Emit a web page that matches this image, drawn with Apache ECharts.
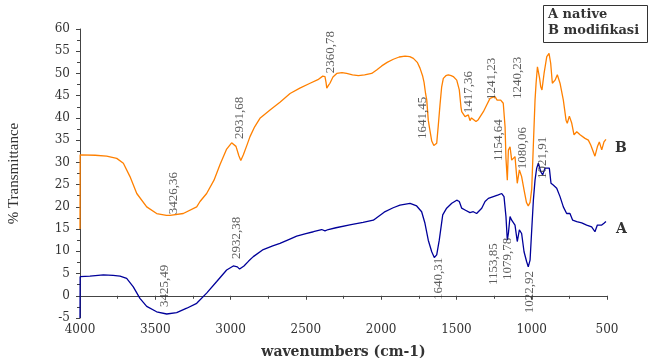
<!DOCTYPE html>
<html>
<head>
<meta charset="utf-8">
<script src="https://cdn.jsdelivr.net/npm/echarts@6/dist/echarts.min.js"></script>
<style>html,body{margin:0;padding:0;background:#fff}#c{width:650px;height:358px}</style>
</head>
<body>
<div id="c"></div>
<script>
// Series B (modifikasi) - wavenumber / %T
var wnB = [4000,3999,3900,3823,3756,3712,3668,3623,3557,3491,3426,3402,3314,3225,3203,3159,3110,3070,3026,2993,2964,2945,2932,2915,2890,2871,2840,2805,2738,2670,2605,2540,2472,2420,2388,2373,2366,2361,2350,2340,2320,2295,2260,2229,2190,2151,2110,2063,2030,1996,1960,1919,1880,1841,1810,1786,1760,1742,1725,1715,1705,1697,1687,1680,1664,1650,1641,1631,1620,1609,1598,1587,1570,1554,1535,1521,1498,1481,1470,1465,1443,1421,1410,1400,1388,1370,1355,1343,1321,1299,1277,1260,1244,1230,1222,1206,1189,1177,1171,1162,1155,1144,1133,1120,1111,1096,1082,1067,1051,1035,1023,1011,1000,989,978,971,962,956,948,940,932,918,900,885,874,863,845,830,812,790,772,764,750,734,719,701,679,646,624,608,595,580,564,551,535,520,507];
var tB = [15.0,31.7,31.6,31.4,30.9,29.8,26.8,23.0,20.0,18.5,18.1,18.1,18.5,20.0,21.2,23.0,26.0,29.5,33.0,34.4,33.6,31.5,30.4,31.7,34.0,35.8,38.0,39.9,41.8,43.6,45.5,46.7,47.8,48.6,49.4,49.3,48.0,46.7,47.3,47.8,49.2,50.0,50.2,50.0,49.7,49.5,49.7,50.0,50.8,51.7,52.5,53.2,53.7,53.9,53.8,53.4,52.5,51.2,49.5,48.0,45.5,44.0,39.5,38.0,34.8,33.8,33.6,34.3,38.5,43.0,47.0,48.9,49.5,49.7,49.5,49.3,48.5,46.3,42.5,41.4,40.3,40.7,39.4,40.0,39.9,39.2,39.6,39.9,41.4,42.9,44.4,44.6,44.8,44.0,43.6,44.0,43.3,38.0,30.9,26.0,32.8,33.5,30.5,30.8,31.3,25.3,28.3,26.8,23.8,21.0,20.2,21.0,24.0,34.0,44.0,47.8,51.5,51.9,49.0,47.0,46.3,50.0,53.8,54.5,52.3,47.8,48.5,49.7,47.8,44.0,39.5,38.8,40.4,38.8,36.2,36.9,36.2,35.4,35.0,33.9,33.9,31.4,33.5,34.6,32.8,34.6,35.2];

// Series A (native)
var wnA = [4000,3999,3934,3880,3845,3780,3734,3690,3646,3602,3557,3491,3424,3358,3291,3225,3159,3092,3026,2982,2955,2940,2933,2911,2880,2849,2783,2720,2672,2610,2561,2500,2450,2395,2373,2351,2300,2200,2120,2052,1980,1920,1875,1808,1764,1731,1709,1687,1664,1647,1631,1614,1591,1565,1531,1498,1481,1465,1443,1410,1388,1366,1332,1310,1288,1255,1222,1199,1184,1171,1162,1155,1144,1133,1111,1096,1082,1067,1051,1034,1023,1011,1000,989,978,967,956,940,927,912,883,872,857,834,812,790,768,746,728,701,668,635,602,580,564,551,535,520,507];
var tA = [-5.0,4.3,4.4,4.6,4.7,4.6,4.4,3.9,2.0,-0.6,-2.4,-3.6,-4.1,-3.8,-2.8,-1.7,0.6,3.2,5.8,6.7,6.5,6.0,5.7,6.7,7.8,8.8,10.4,11.2,11.8,12.7,13.4,14.0,14.4,14.9,14.6,14.9,15.3,16.0,16.5,17.0,18.8,19.8,20.4,20.8,20.2,18.9,16.3,12.5,9.9,8.6,9.2,12.5,18.2,19.7,20.8,21.5,21.2,19.7,19.3,18.7,18.9,18.5,19.7,21.2,21.9,22.3,22.7,23.0,22.3,17.8,12.5,14.0,17.8,17.0,15.9,12.2,14.8,14.0,9.9,7.7,6.5,8.0,14.8,21.5,26.0,28.7,29.8,27.9,27.2,28.7,28.7,25.3,24.9,24.2,22.3,20.0,18.5,18.5,17.0,16.7,16.4,15.9,15.5,14.4,15.9,15.5,15.9,16.3,16.7];

// Peak annotations (text, position in data space)
var annText = ['2360,78','2931,68','1641,45','1417,36','1241,23','1240,23','1154,64','1080,06','1021,91','3426,36','3425,49','2932,38','1640,31','1153,85','1079,78','1022,92'];
var annX = [2333,2937,1722,1417,1264,1091,1217,1058,925,3376,3435,2957,1616,1250,1157,1011];
var annY = [54.8,40.0,40.0,45.8,48.8,49.0,35.0,33.2,31.0,23.1,2.2,13.0,3.8,7.1,8.3,0.8];

// Axis ticks
var xTicks = [4000,3500,3000,2500,2000,1500,1000,500];
var yTicks = [-5,0,5,10,15,20,25,30,35,40,45,50,55,60];

function pairs(xs, ys){ var r=[]; for(var i=0;i<xs.length;i++) r.push([xs[i], ys[i]]); return r; }
var ann = annText.map(function(t,i){ return {name:t, value:[annX[i], annY[i]]}; });

var chart = echarts.init(document.getElementById('c'), null, {renderer:'canvas'});
var serifH = 'DejaVu Serif';
var serifV = 'Liberation Serif';
chart.setOption({
  animation:false,
  backgroundColor:'#fff',
  grid:{left:80, right:43, top:29, bottom:40, containLabel:false, outerBoundsMode:'none'},
  xAxis:{
    type:'value', inverse:true, min:xTicks[xTicks.length-1], max:xTicks[0], interval:500,
    name:'wavenumbers (cm-1)', nameLocation:'middle', nameGap:27,
    nameTextStyle:{fontFamily:serifH, fontSize:14, fontWeight:'bold', color:'#333'},
    axisLine:{lineStyle:{color:'#444', width:1}},
    axisTick:{show:true, length:4, lineStyle:{color:'#444'}},
    minorTick:{show:true, splitNumber:2, length:3, lineStyle:{color:'#444'}},
    axisLabel:{fontFamily:serifH, fontSize:12, color:'#333', margin:6, formatter:function(v){return String(v);}},
    splitLine:{show:false}
  },
  yAxis:{
    type:'value', min:yTicks[0], max:yTicks[yTicks.length-1], interval:5,
    name:'% Transmittance', nameLocation:'middle', nameGap:58, nameRotate:90,
    nameTextStyle:{fontFamily:serifV, fontSize:15, color:'#333'},
    axisLine:{show:true, lineStyle:{color:'#444', width:1}},
    axisTick:{show:true, length:4, lineStyle:{color:'#444'}},
    minorTick:{show:true, splitNumber:2, length:3, lineStyle:{color:'#444'}},
    axisLabel:{fontFamily:serifH, fontSize:12, color:'#333', margin:10, formatter:function(v){return String(v);}},
    splitLine:{show:false}
  },
  series:[
    {type:'line', name:'B', data:pairs(wnB,tB), showSymbol:false, symbol:'none',
     lineStyle:{color:'#ff8000', width:1.3},
     endLabel:{show:true, formatter:'B', fontFamily:serifH, fontWeight:'bold', fontSize:14, color:'#333', distance:0, offset:[21,9]}},
    {type:'line', name:'A', data:pairs(wnA,tA), showSymbol:false, symbol:'none',
     lineStyle:{color:'#00009a', width:1.3},
     endLabel:{show:true, formatter:'A', fontFamily:serifH, fontWeight:'bold', fontSize:14, color:'#333', distance:0, offset:[21,8]}},
    {type:'scatter', name:'ann', data:ann, symbolSize:1, itemStyle:{color:'rgba(0,0,0,0)'}, silent:true, z:5,
     label:{show:true, position:'inside', rotate:90, formatter:'{b}', fontFamily:serifV, fontSize:13, color:'#333'}}
  ],
  graphic:[
    {type:'rect', left:543, top:5, shape:{width:104, height:37}, style:{fill:'#fff', stroke:'#333', lineWidth:1}},
    {type:'text', left:548, top:8, style:{text:'A native', font:'bold 13px "DejaVu Serif"', fill:'#333'}},
    {type:'text', left:548, top:24, style:{text:'B modifikasi', font:'bold 13px "DejaVu Serif"', fill:'#333'}}
  ]
});
</script>
</body>
</html>
